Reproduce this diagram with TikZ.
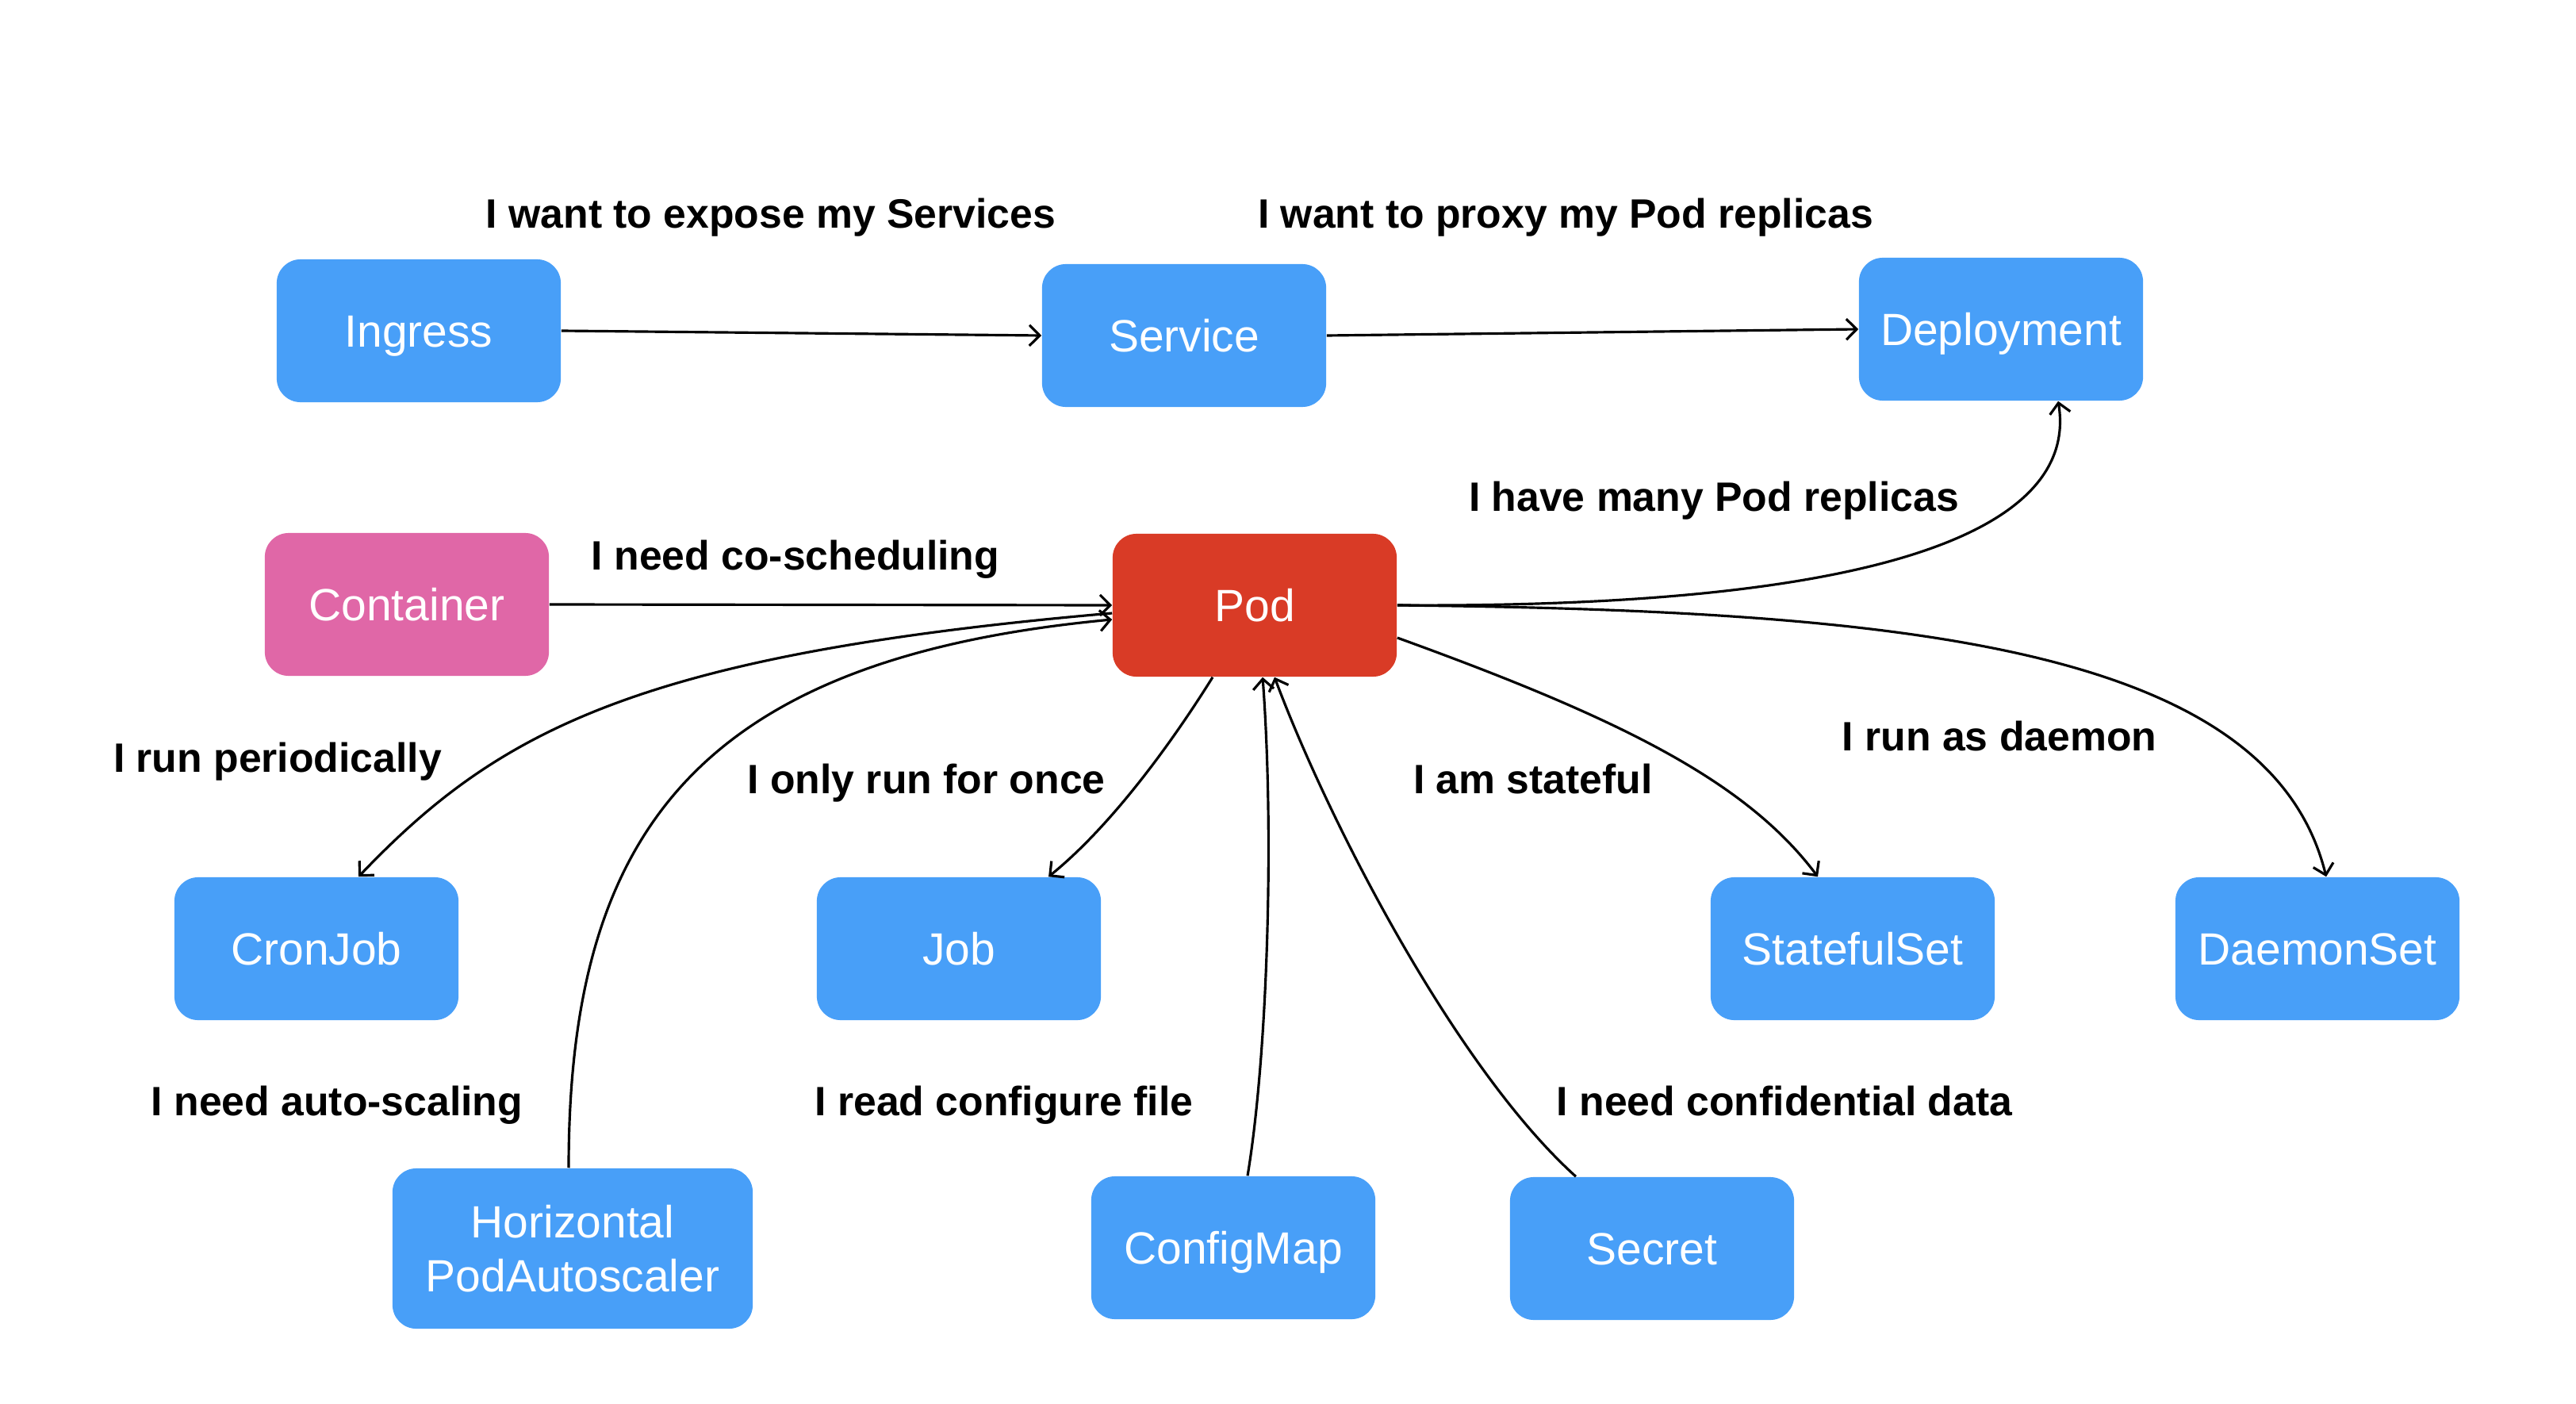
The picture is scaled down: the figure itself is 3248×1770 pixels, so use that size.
\documentclass[tikz,border=0pt]{standalone}
\usepackage{fontspec}
\setmainfont{Liberation Sans}
\usetikzlibrary{arrows.meta}
\definecolor{kblue}{HTML}{489FF8}
\definecolor{kred}{HTML}{D93B26}
\definecolor{kpink}{HTML}{E067A7}
\tikzset{
  kbox/.style={rounded corners=0.3cm, minimum width=3.58cm, minimum height=1.80cm,
    text=white, align=center, inner sep=0pt,
    font=\fontsize{16.2}{19.5}\selectfont},
  capc/.style={text height=11.6pt, text depth=0pt},
  bluebox/.style={kbox, fill=kblue},
  lbl/.style={font=\bfseries\fontsize{14.7}{17}\selectfont, text=black, inner sep=0pt,
    text height=10.5pt, text depth=0pt},
  conn/.style={line width=0.9pt, -{Straight Barb[length=1.3mm,width=2.6mm,line width=0.9pt]}}
}
\begin{document}
\begin{tikzpicture}[x=0.01cm,y=-0.01cm]
\useasboundingbox (0,0) rectangle (3248,1770);
% nodes
\node[bluebox, capc] (ingress) at (528,417) {Ingress};
\node[bluebox, capc] (service) at (1493,423) {Service};
\node[bluebox, capc] (deployment) at (2523,415) {Deployment};
\node[kbox, capc, fill=kpink] (container) at (513,762) {Container};
\node[kbox, capc, fill=kred] (pod) at (1582,763) {Pod};
\node[bluebox, capc] (cronjob) at (399,1196) {CronJob};
\node[bluebox, capc] (job) at (1209,1196) {Job};
\node[bluebox, capc] (statefulset) at (2336,1196) {StatefulSet};
\node[bluebox, capc] (daemonset) at (2922,1196) {DaemonSet};
\node[bluebox, minimum width=4.54cm, minimum height=2.02cm] (hpa) at (722,1574) {Horizontal\\PodAutoscaler};
\node[bluebox, capc] (configmap) at (1555,1573) {ConfigMap};
\node[bluebox, capc] (secret) at (2083,1574) {Secret};
% labels
\node[lbl] (l1) at (972,269) {I want to expose my Services};
\node[lbl] (l2) at (1974,269) {I want to proxy my Pod replicas};
\node[lbl] (l3) at (2161,626) {I have many Pod replicas};
\node[lbl] (l4) at (1003,700) {I need co-scheduling};
\node[lbl] (l5) at (350,955) {I run periodically};
\node[lbl] (l6) at (1168,982) {I only run for once};
\node[lbl] (l7) at (1933,982) {I am stateful};
\node[lbl] (l8) at (2521,928) {I run as daemon};
\node[lbl] (l9) at (425,1388) {I need auto-scaling};
\node[lbl] (l10) at (1266,1388) {I read configure file};
\node[lbl] (l11) at (2250,1388) {I need confidential data};
% connectors
\draw[conn] (ingress.east) -- (service.west);
\draw[conn] (service.east) -- (deployment.west);
\draw[conn] (container.east) -- (pod.west);
\draw[conn] (pod.east) .. controls +(640,4) and +(25,153) .. ([xshift=0.72cm]deployment.south);
\draw[conn] ([yshift=-0.1cm]pod.west) .. controls +(-600,52) and +(175,-183) .. ([xshift=0.53cm]cronjob.north);
\draw[conn] ([xshift=-0.05cm]hpa.north) .. controls +(0,-423) and +(-522,49) .. ([yshift=-0.18cm]pod.west);
\draw[conn] ([xshift=-0.53cm]pod.south) .. controls +(-53,85) and +(78,-63) .. ([xshift=1.13cm]job.north);
\draw[conn] ([xshift=0.18cm]configmap.north) .. controls +(25,-150) and +(15,200) .. ([xshift=0.10cm]pod.south);
\draw[conn] ([xshift=-0.96cm]secret.north) .. controls +(-149,-134) and +(70,187) .. ([xshift=0.25cm]pod.south);
\draw[conn] ([yshift=-0.41cm]pod.east) .. controls +(282,102) and +(-90,-120) .. ([xshift=-0.44cm]statefulset.north);
\draw[conn] (pod.east) .. controls +(638,7) and +(-72,-291) .. ([xshift=0.11cm]daemonset.north);
\end{tikzpicture}
\end{document}
